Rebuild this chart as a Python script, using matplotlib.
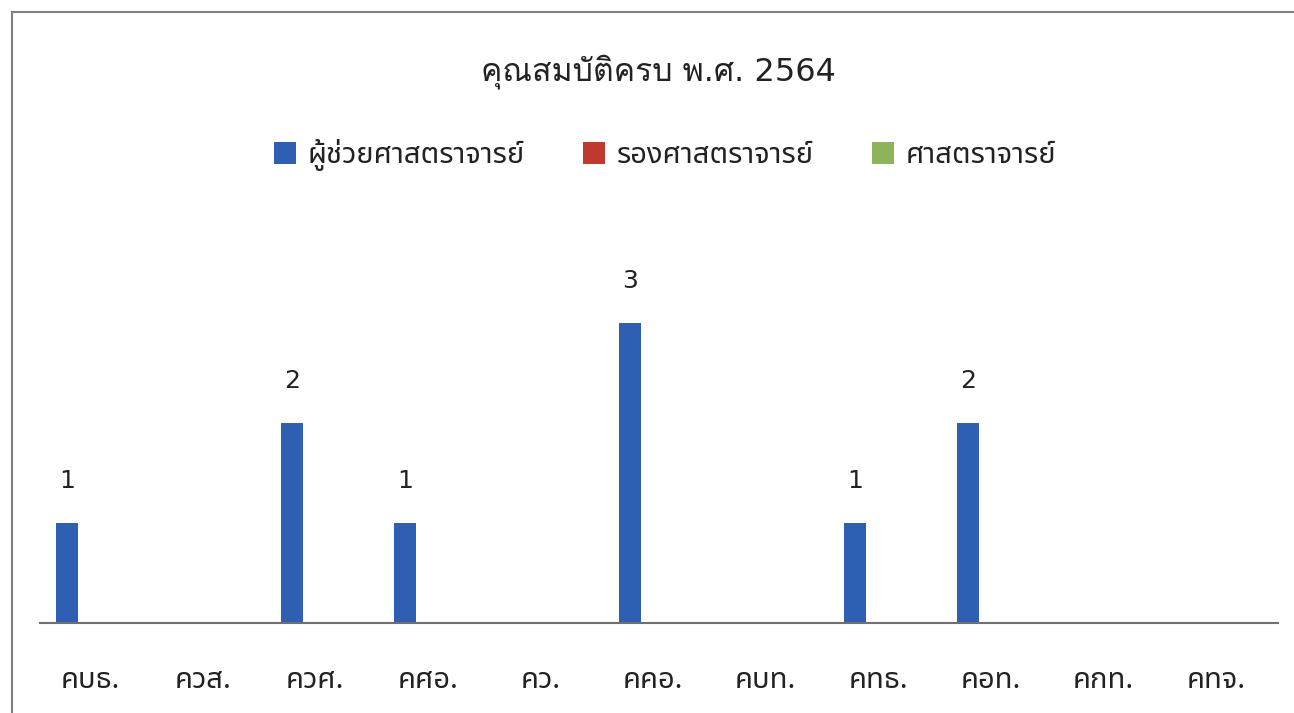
import matplotlib
matplotlib.use("Agg")
import matplotlib.pyplot as plt
import numpy as np

categories = ["คบธ.", "ควส.", "ควศ.", "คศอ.", "คว.", "คคอ.", "คบท.", "คทธ.", "คอท.", "คกท.", "คทจ."]
series_names = ["ผู้ช่วยศาสตราจารย์", "รองศาสตราจารย์", "ศาสตราจารย์"]
asst_prof = [1, 0, 2, 1, 0, 3, 0, 1, 2, 0, 0]
assoc_prof = [0, 0, 0, 0, 0, 0, 0, 0, 0, 0, 0]
prof = [0, 0, 0, 0, 0, 0, 0, 0, 0, 0, 0]
title = "คุณสมบัติครบ พ.ศ. 2564"

thai = ["Noto Sans Thai", "DejaVu Sans"]
plt.rcParams["font.family"] = ["DejaVu Sans", "Noto Sans Thai"]

fig = plt.figure(figsize=(12.94, 7.13), dpi=100)
ax = fig.add_axes([40 / 1294, 90 / 713, 1238 / 1294, 360 / 713])

x = np.arange(len(categories))
w = 0.195
colors = ["#2f5fb3", "#c0392f", "#8fb35a"]
for i, (vals, name) in enumerate(zip([asst_prof, assoc_prof, prof], series_names)):
    bars = ax.bar(x + (i - 1) * 0.205, vals, width=w, color=colors[i], label=name)
    if i == 0:
        for b, v in zip(bars, vals):
            if v > 0:
                ax.text(b.get_x() + b.get_width() / 2, v + 0.3, str(v), ha="center", va="bottom",
                        fontsize=18, color="#222222")

ax.set_xlim(-0.444, 10.55)
ax.set_ylim(0, 3.6)
ax.set_xticks(x)
ax.set_xticklabels(categories, fontsize=21, family=thai, color="#222222", weight="medium")
ax.tick_params(axis="x", length=0, pad=31)
ax.set_yticks([])
for s in ["top", "right", "left"]:
    ax.spines[s].set_visible(False)
ax.spines["bottom"].set_color("#707070")
ax.spines["bottom"].set_linewidth(1.5)

fig.text(658 / 1294, 1 - 72 / 713, title, ha="center", va="center", fontsize=23,
         family=["DejaVu Sans", "Loma"], color="#222222")
fig.legend(loc="center", bbox_to_anchor=(665 / 1294, 1 - 155 / 713), ncol=3, frameon=False,
           prop={"family": thai, "size": 21, "weight": "medium"}, handlelength=0.75, handleheight=0.75,
           columnspacing=2.0, handletextpad=0.4, labelcolor="#222222")

# outer frame
fig.add_artist(plt.Line2D([12 / 1294, 1], [1 - 12 / 713, 1 - 12 / 713], color="#808080", lw=1.5))
fig.add_artist(plt.Line2D([12 / 1294, 12 / 1294], [0, 1 - 12 / 713], color="#808080", lw=1.5))

fig.savefig("out.png", dpi=100)
